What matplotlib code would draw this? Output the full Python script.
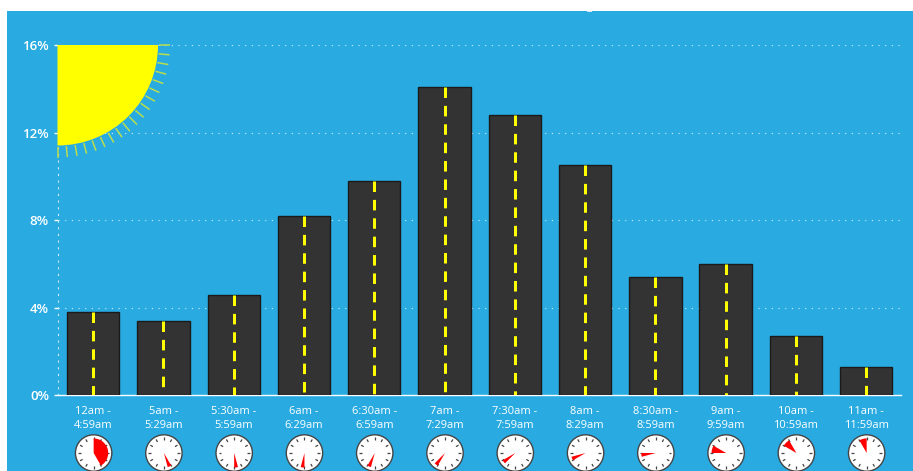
import numpy as np
import matplotlib
matplotlib.use("Agg")
import matplotlib.pyplot as plt
from matplotlib.patches import Rectangle, Wedge, Circle

# values
time_labels = ["12am -\n4:59am", "5am -\n5:29am", "5:30am -\n5:59am", "6am -\n6:29am",
               "6:30am -\n6:59am", "7am -\n7:29am", "7:30am -\n7:59am", "8am -\n8:29am",
               "8:30am -\n8:59am", "9am -\n9:59am", "10am -\n10:59am", "11am -\n11:59am"]
share = [3.8, 3.4, 4.6, 8.2, 9.8, 14.1, 12.8, 10.5, 5.4, 6.0, 2.7, 1.3]
clock_start = [0, 5, 5.5, 6, 6.5, 7, 7.5, 8, 8.5, 9, 10, 11]
clock_end = [5, 5.5, 6, 6.5, 7, 7.5, 8, 8.5, 9, 10, 11, 12]
y_ticks = [0, 4, 8, 12, 16]

W, H = 913, 471
BLUE = "#29abe2"
plt.rcParams['font.family'] = ['Open Sans', 'DejaVu Sans']

fig = plt.figure(figsize=(W / 100, H / 100), dpi=100, facecolor="white")

# overlay in pixel coords, y going down like the picture
bg = fig.add_axes([0, 0, 1, 1], zorder=0)
bg.set_xlim(0, W)
bg.set_ylim(H, 0)
bg.axis("off")
bg.add_patch(Rectangle((7, 11), W - 7, H - 11, color=BLUE, lw=0))
# bottom of the cropped title letter
bg.add_patch(Rectangle((586.5, 10.5), 5, 1.5, color="#d5ecf8", lw=0))

left, right, top, bottom = 58.0, 901.3, 45.0, 395.2
ax = fig.add_axes([left / W, 1 - bottom / H, (right - left) / W, (bottom - top) / H], zorder=1)
ax.patch.set_alpha(0)
x = np.arange(len(share))
ax.bar(x, share, width=0.745, color="#333333", edgecolor="#1a1a1a", linewidth=1, zorder=3)
# road markings, dashes start at the top of each bar
for i, v in enumerate(share):
    ax.plot([i, i], [v, 0], color="#ffff00", lw=2.16, dashes=(3.5, 2.63), dash_capstyle="butt", zorder=4)

ax.set_xlim(-0.5, len(share) - 0.5)
ax.set_ylim(0, 16)
ax.set_yticks(y_ticks)
ax.set_yticklabels([f"{t}%" for t in y_ticks], color="white", fontsize=9.5, fontweight="semibold")
ax.set_xticks(x)
ax.set_xticklabels(time_labels, color="white", fontsize=8, fontweight="medium", linespacing=1.35)
ax.tick_params(axis="x", length=0, pad=7.7)
ax.tick_params(axis="y", length=3, width=1, color="white", pad=3.5)
ax.grid(axis="y", color="white", linestyle=(0, (1, 5)), linewidth=0.8, alpha=0.8, zorder=1)
for s in ["top", "right"]:
    ax.spines[s].set_visible(False)
ax.spines["bottom"].set_color("white")
ax.spines["bottom"].set_linewidth(1.0)
ax.spines["left"].set_color("#cfeaf7")
ax.spines["left"].set_linewidth(0.8)
ax.spines["left"].set_linestyle((0, (1, 5)))

# sun in the top left corner
fg = fig.add_axes([0, 0, 1, 1], zorder=2)
fg.set_xlim(0, W)
fg.set_ylim(H, 0)
fg.axis("off")
sun_x = 57.5
sun_r = 100.5
fg.add_patch(Wedge((sun_x, top), sun_r, 0, 90, color="#ffff00", lw=0))
for a in np.radians(np.arange(0, 91, 5)):
    fg.plot([sun_x + (sun_r + 1) * np.cos(a), sun_x + (sun_r + 12) * np.cos(a)],
            [top + (sun_r + 1) * np.sin(a), top + (sun_r + 12) * np.sin(a)],
            color="#b9dd4e", lw=1.1, solid_capstyle="butt")

# clocks under each label
clock_y, clock_r = 453, 18.2
for i in range(len(share)):
    cx = fg.transData.inverted().transform(ax.transData.transform((i, 0)))[0] + 0.5
    fg.add_patch(Circle((cx, clock_y), clock_r, facecolor="white", edgecolor="#444444", lw=1.0, clip_on=False))
    for h in range(12):
        a = np.radians(h * 30)
        fg.plot([cx + clock_r * 0.7 * np.sin(a), cx + clock_r * 0.86 * np.sin(a)],
                [clock_y - clock_r * 0.7 * np.cos(a), clock_y - clock_r * 0.86 * np.cos(a)],
                color="#444444", lw=0.9, solid_capstyle="butt")
    # y axis is flipped here so angles run clockwise from 3 o'clock
    a0 = clock_start[i] * 30 - 90
    a1 = clock_end[i] * 30 - 90
    fg.add_patch(Wedge((cx, clock_y), clock_r * 0.8, a0, a1, color="#ff0000", lw=0, zorder=5))

fig.savefig("out.png", dpi=100, facecolor="white")
